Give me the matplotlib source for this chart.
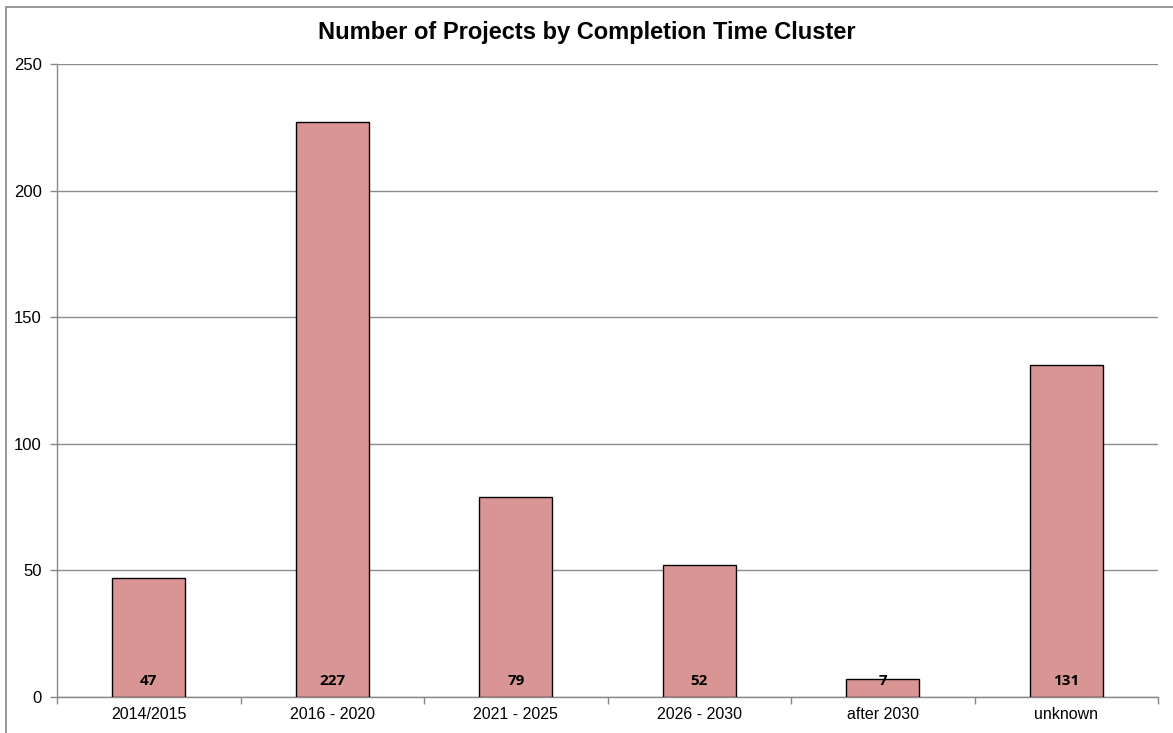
import matplotlib
matplotlib.use("Agg")
import matplotlib.pyplot as plt
from matplotlib.patches import Rectangle
import numpy as np

# data
categories = ["2014/2015", "2016 - 2020", "2021 - 2025", "2026 - 2030", "after 2030", "unknown"]
counts = [47, 227, 79, 52, 7, 131]
yticks = [0, 50, 100, 150, 200, 250]

fig = plt.figure(figsize=(11.73, 7.33), dpi=100)
ax = fig.add_axes([57/1173, 36/733, 1101/1173, 633/733])

x = np.arange(len(categories))
ax.bar(x, counts, width=0.4, color="#D99594", edgecolor="black", linewidth=1, zorder=3)

for xi, v in zip(x, counts):
    ax.text(xi, 6.5, str(v), ha="center", va="center", fontsize=11,
            fontweight="bold", family="Open Sans", zorder=4)

ax.set_xlim(-0.5, len(categories) - 0.5)
ax.set_ylim(0, 250)
ax.set_yticks(yticks)
ax.set_xticks(x)
ax.set_xticklabels(categories, family="Liberation Sans", fontsize=11.5)
ax.set_xticks(np.arange(-0.5, len(categories)), minor=True)
ax.tick_params(axis="x", which="major", length=0, pad=7)
ax.tick_params(axis="x", which="minor", length=5, color="#888888", width=1)
ax.tick_params(axis="y", length=5, color="#888888", width=1, pad=6)
for lbl in ax.get_yticklabels():
    lbl.set_family("Liberation Sans")
    lbl.set_fontsize(12)

ax.grid(axis="y", color="#8c8c8c", linewidth=1, zorder=0)
for s in ["top", "right"]:
    ax.spines[s].set_visible(False)
for s in ["left", "bottom"]:
    ax.spines[s].set_color("#888888")
    ax.spines[s].set_linewidth(1)

fig.text(0.5, 1 - 33/733, "Number of Projects by Completion Time Cluster",
         ha="center", va="center", fontsize=17, fontweight="bold", family="Liberation Sans")

# outer chart border (cropped at right and bottom)
fig.patches.append(Rectangle((6/1173, -0.1), 2, 1.1 - 7/733, transform=fig.transFigure,
                             fill=False, edgecolor="#888888", linewidth=1.2))

fig.savefig("out.png", dpi=100)
